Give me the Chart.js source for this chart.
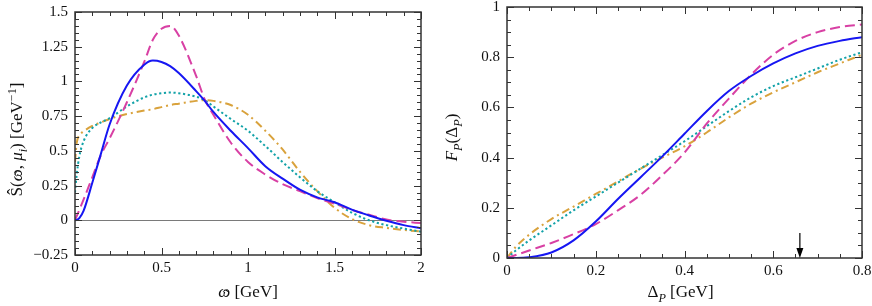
<!DOCTYPE html>
<html>
<head>
<meta charset="utf-8">
<script src="https://cdn.jsdelivr.net/npm/chart.js@4/dist/chart.umd.min.js"></script>
<style>
  html, body { margin: 0; padding: 0; background: #fff; }
  #wrap { position: relative; width: 872px; height: 306px; }
  .panel { position: absolute; top: 0; width: 436px; height: 306px; }
</style>
</head>
<body>
<div id="wrap">
  <div class="panel" style="left:0"><canvas id="shapeChart" width="436" height="306"></canvas></div>
  <div class="panel" style="left:436px"><canvas id="fractionChart" width="436" height="306"></canvas></div>
</div>
<script>
// left panel: shape function vs omega-hat
const omegaGrid = [0, 0.01, 0.025, 0.05, 0.1, 0.15, 0.2, 0.3, 0.4, 0.45, 0.5, 0.55, 0.6, 0.7, 0.75, 0.8, 0.9, 1.0, 1.1, 1.2, 1.3, 1.4, 1.5, 1.6, 1.7, 1.8, 1.9, 2.0]
const shapeSolid   = [0, 0.003, 0.015, 0.07, 0.27, 0.48, 0.69, 0.97, 1.12, 1.15, 1.14, 1.11, 1.06, 0.93, 0.86, 0.78, 0.645, 0.52, 0.39, 0.30, 0.22, 0.165, 0.13, 0.077, 0.035, -0.003, -0.035, -0.058]
const shapeDashed  = [0, 0.03, 0.075, 0.15, 0.31, 0.47, 0.59, 0.85, 1.14, 1.30, 1.38, 1.40, 1.33, 1.04, 0.87, 0.76, 0.56, 0.42, 0.33, 0.26, 0.21, 0.16, 0.12, 0.075, 0.04, 0.005, -0.01, -0.02]
const shapeDotted  = [0.2, 0.33, 0.46, 0.57, 0.665, 0.705, 0.735, 0.82, 0.885, 0.905, 0.915, 0.92, 0.915, 0.89, 0.865, 0.82, 0.73, 0.645, 0.535, 0.42, 0.31, 0.21, 0.13, 0.055, 0.0, -0.035, -0.06, -0.082]
const shapeDashDot = [0.42, 0.56, 0.61, 0.64, 0.68, 0.705, 0.73, 0.765, 0.79, 0.80, 0.815, 0.83, 0.84, 0.86, 0.865, 0.86, 0.83, 0.76, 0.645, 0.51, 0.35, 0.21, 0.09, 0.01, -0.035, -0.055, -0.07, -0.08]
const omegaTicks = [0, 0.5, 1, 1.5, 2]
const shapeTicks = [-0.25, 0, 0.25, 0.5, 0.75, 1, 1.25, 1.5]

// right panel: fraction vs Delta_P
const deltaGrid = [0, 0.02, 0.05, 0.1, 0.15, 0.2, 0.25, 0.3, 0.35, 0.4, 0.45, 0.5, 0.55, 0.6, 0.65, 0.7, 0.75, 0.8]
const fracSolid   = [0, 0, 0.003, 0.022, 0.07, 0.145, 0.235, 0.32, 0.405, 0.495, 0.585, 0.665, 0.725, 0.775, 0.815, 0.845, 0.865, 0.88]
const fracDashed  = [0, 0.012, 0.03, 0.06, 0.095, 0.135, 0.19, 0.25, 0.33, 0.42, 0.535, 0.635, 0.73, 0.81, 0.865, 0.9, 0.92, 0.93]
const fracDotted  = [0, 0.03, 0.07, 0.13, 0.19, 0.245, 0.3, 0.355, 0.41, 0.465, 0.525, 0.585, 0.64, 0.685, 0.72, 0.755, 0.79, 0.82]
const fracDashDot = [0, 0.045, 0.093, 0.155, 0.205, 0.255, 0.305, 0.355, 0.4, 0.445, 0.5, 0.56, 0.615, 0.66, 0.7, 0.74, 0.775, 0.81]
const deltaTicks = [0, 0.2, 0.4, 0.6, 0.8]
const fracTicks = [0, 0.2, 0.4, 0.6, 0.8, 1]
const arrowDelta = 0.66
const arrowTop = 0.1

const FONT = "'Liberation Serif', 'DejaVu Serif Condensed', 'DejaVu Serif', serif"

// solid first so it ends up drawn on top
const lineStyles = [
  { color: '#1616f2', dash: [] },
  { color: '#d840a4', dash: [10, 5] },
  { color: '#12a2a8', dash: [2.2, 2.6] },
  { color: '#d9a23c', dash: [8, 4, 2, 4] }
]

function fmt(v) {
  return v < 0 ? '\u2212' + String(-v) : String(v)
}

// draws a list of text pieces centred on the current origin
function drawRich(ctx, segs, size) {
  const parts = segs.map(s => {
    const sz = (s.sub || s.sup) ? size * 0.72 : size
    const font = (s.it ? 'italic ' : '') + sz + 'px ' + FONT
    ctx.font = font
    const dy = s.sub ? size * 0.28 : s.sup ? -size * 0.38 : 0
    return { t: s.t, hat: s.hat, it: s.it, sz, font, dy, w: ctx.measureText(s.t).width }
  })
  const total = parts.reduce((a, p) => a + p.w, 0)
  let x = -total / 2
  ctx.textBaseline = 'alphabetic'
  ctx.textAlign = 'left'
  parts.forEach(p => {
    ctx.font = p.font
    const base = p.dy + size * 0.32
    ctx.fillText(p.t, x, base)
    if (p.hat) {
      ctx.font = p.sz + 'px ' + FONT
      ctx.textAlign = 'center'
      ctx.fillText('\u02c6', x + p.w / 2 + (p.it ? 1.5 : 0), base + p.sz * 0.2)
      ctx.textAlign = 'left'
    }
    x += p.w
  })
}

const framePlugin = {
  id: 'frame',
  beforeDatasetsDraw(chart, args, opts) {
    if (!opts.zeroLine) return
    const { ctx, chartArea: a, scales: { y } } = chart
    const py = Math.round(y.getPixelForValue(0)) + 0.5
    ctx.save()
    ctx.strokeStyle = '#7a7a7a'
    ctx.lineWidth = 1
    ctx.beginPath()
    ctx.moveTo(a.left, py)
    ctx.lineTo(a.right, py)
    ctx.stroke()
    ctx.restore()
  },
  afterDatasetsDraw(chart, args, opts) {
    const { ctx, chartArea: a, scales: { x, y } } = chart
    ctx.save()
    ctx.strokeStyle = '#333'
    ctx.lineWidth = 1

    const marks = (scale, step, major) => {
      const out = []
      const n = Math.round((scale.max - scale.min) / step)
      for (let i = 0; i <= n; i++) {
        const v = scale.min + i * step
        const isMajor = major.some(m => Math.abs(m - v) < 1e-6)
        out.push({ v, len: isMajor ? 7 : 4 })
      }
      return out
    }

    ctx.beginPath()
    marks(x, opts.xMinor, opts.xMajor).forEach(m => {
      const px = Math.round(x.getPixelForValue(m.v)) + 0.5
      ctx.moveTo(px, a.bottom); ctx.lineTo(px, a.bottom - m.len)
      ctx.moveTo(px, a.top); ctx.lineTo(px, a.top + m.len)
    })
    marks(y, opts.yMinor, opts.yMajor).forEach(m => {
      const py = Math.round(y.getPixelForValue(m.v)) + 0.5
      ctx.moveTo(a.left, py); ctx.lineTo(a.left + m.len, py)
      ctx.moveTo(a.right, py); ctx.lineTo(a.right - m.len, py)
    })
    ctx.stroke()

    ctx.lineWidth = 1.5
    ctx.strokeRect(a.left, a.top, a.right - a.left, a.bottom - a.top)

    if (opts.arrow) {
      const px = x.getPixelForValue(opts.arrow.x)
      const top = y.getPixelForValue(opts.arrow.top)
      const tip = y.getPixelForValue(0)
      ctx.strokeStyle = '#000'
      ctx.fillStyle = '#000'
      ctx.lineWidth = 1.2
      ctx.beginPath()
      ctx.moveTo(px, top)
      ctx.lineTo(px, tip - 6)
      ctx.stroke()
      ctx.beginPath()
      ctx.moveTo(px, tip)
      ctx.lineTo(px - 3.5, tip - 10)
      ctx.lineTo(px + 3.5, tip - 10)
      ctx.closePath()
      ctx.fill()
    }
    ctx.restore()
  },
  afterDraw(chart, args, opts) {
    const { ctx, chartArea: a } = chart
    ctx.save()
    ctx.fillStyle = '#111'
    const xt = opts.xTitle
    ctx.save()
    ctx.translate((a.left + a.right) / 2 + xt.dx, a.bottom + xt.dy)
    drawRich(ctx, xt.segs, 17)
    ctx.restore()
    const yt = opts.yTitle
    ctx.save()
    ctx.translate(a.left - yt.dx, (a.top + a.bottom) / 2 + yt.dy)
    ctx.rotate(-Math.PI / 2)
    drawRich(ctx, yt.segs, 17)
    ctx.restore()
    ctx.restore()
  }
}

function makeChart(id, cfg) {
  const tickFont = { family: FONT, size: 15 }
  return new Chart(document.getElementById(id), {
    type: 'line',
    data: {
      datasets: cfg.series.map((ys, i) => ({
        data: cfg.grid.map((gx, j) => ({ x: gx, y: ys[j] })),
        borderColor: lineStyles[i].color,
        borderDash: lineStyles[i].dash,
        borderWidth: 2,
        borderCapStyle: 'butt',
        pointRadius: 0,
        fill: false,
        cubicInterpolationMode: 'monotone'
      }))
    },
    options: {
      responsive: false,
      animation: false,
      devicePixelRatio: 1,
      layout: { padding: cfg.padding },
      plugins: {
        legend: { display: false },
        tooltip: { enabled: false },
        frame: cfg.frame
      },
      scales: {
        x: {
          type: 'linear',
          min: cfg.xMin, max: cfg.xMax,
          grid: { display: false, drawTicks: false },
          border: { display: false },
          ticks: { font: tickFont, color: '#111', padding: 4, maxRotation: 0, autoSkip: false, callback: v => fmt(v) },
          afterBuildTicks: s => { s.ticks = cfg.xTicks.map(v => ({ value: v })) },
          afterFit: s => { s.height = cfg.xAxisHeight; s.paddingLeft = 0; s.paddingRight = 0 }
        },
        y: {
          type: 'linear',
          min: cfg.yMin, max: cfg.yMax,
          grid: { display: false, drawTicks: false },
          border: { display: false },
          ticks: { font: tickFont, color: '#111', padding: 7, autoSkip: false, callback: v => fmt(v) },
          afterBuildTicks: s => { s.ticks = cfg.yTicks.map(v => ({ value: v })) },
          afterFit: s => { s.width = cfg.yAxisWidth; s.paddingTop = 0; s.paddingBottom = 0 }
        }
      }
    },
    plugins: [framePlugin]
  })
}

function drawAll() {
  makeChart('shapeChart', {
    grid: omegaGrid,
    series: [shapeSolid, shapeDashed, shapeDotted, shapeDashDot],
    xMin: 0, xMax: 2, yMin: -0.25, yMax: 1.5,
    xTicks: omegaTicks, yTicks: shapeTicks,
    padding: { top: 12, right: 15, left: 0, bottom: 0 },
    xAxisHeight: 51, yAxisWidth: 75,
    frame: {
      zeroLine: true,
      xMinor: 0.1, xMajor: omegaTicks,
      yMinor: 0.05, yMajor: shapeTicks,
      xTitle: { dx: 0, dy: 37, segs: [{ t: '\u03c9', it: true, hat: true }, { t: ' [GeV]' }] },
      yTitle: { dx: 58, dy: 6, segs: [
        { t: '\u015c' }, { t: '(' }, { t: '\u03c9', it: true, hat: true }, { t: ', ' }, { t: '\u03bc', it: true },
        { t: 'i', it: true, sub: true }, { t: ') [GeV' }, { t: '\u22121', sup: true }, { t: ']' }
      ] }
    }
  })

  makeChart('fractionChart', {
    grid: deltaGrid,
    series: [fracSolid, fracDashed, fracDotted, fracDashDot],
    xMin: 0, xMax: 0.8, yMin: 0, yMax: 1,
    xTicks: deltaTicks, yTicks: fracTicks,
    padding: { top: 7, right: 10, left: 0, bottom: 0 },
    xAxisHeight: 48, yAxisWidth: 71,
    frame: {
      zeroLine: false,
      xMinor: 0.05, xMajor: deltaTicks,
      yMinor: 0.05, yMajor: fracTicks,
      arrow: { x: arrowDelta, top: arrowTop },
      xTitle: { dx: -4, dy: 34, segs: [{ t: '\u0394' }, { t: 'P', it: true, sub: true }, { t: ' [GeV]' }] },
      yTitle: { dx: 55, dy: 5, segs: [
        { t: 'F', it: true }, { t: 'P', it: true, sub: true }, { t: '(\u0394' }, { t: 'P', it: true, sub: true }, { t: ')' }
      ] }
    }
  })
}

Promise.all([
  document.fonts.load('16px "Liberation Serif"'),
  document.fonts.load('italic 16px "Liberation Serif"')
]).then(drawAll, drawAll)
</script>
</body>
</html>
